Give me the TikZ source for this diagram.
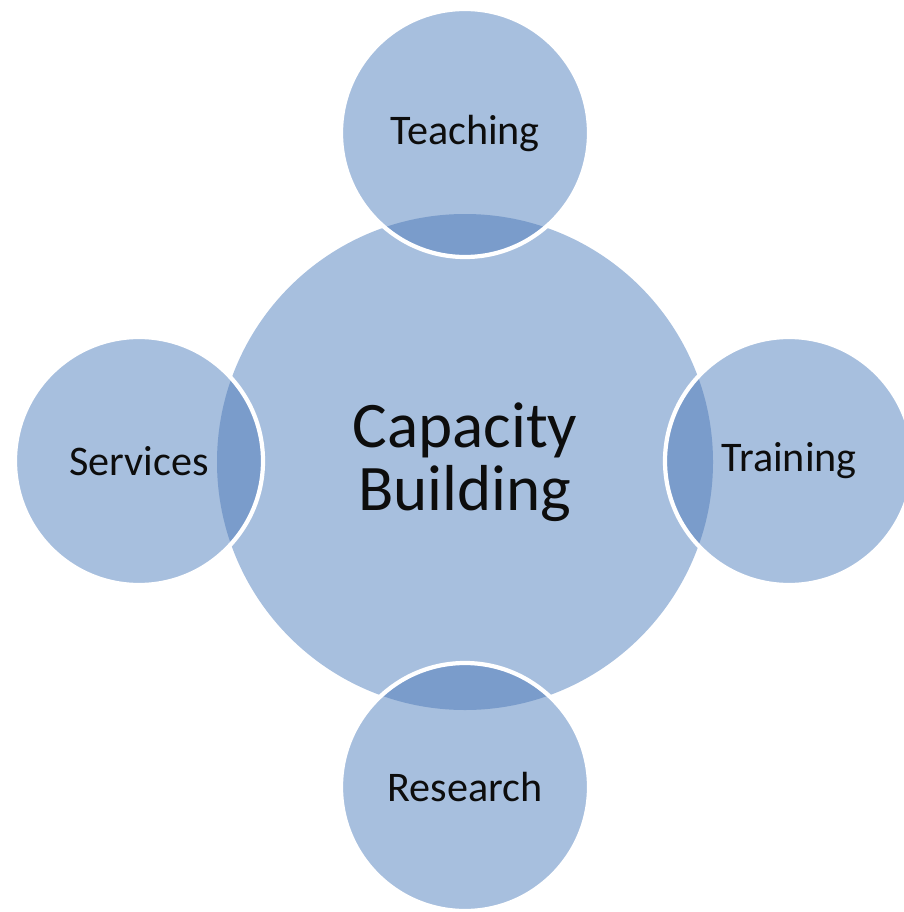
\documentclass[tikz,border=0pt]{standalone}
\usepackage{fontspec}
\setmainfont{Carlito}
\usepackage{tikz}
\definecolor{petal}{HTML}{A7BFDE}
\definecolor{petaldark}{HTML}{7A9CCB}
\definecolor{inktext}{HTML}{0D0D0D}
\newcommand{\hubrad}{248}
\newcommand{\petalrad}{124}
\tikzset{
  hub/.style={circle, fill=petal, minimum size=9.92cm, inner sep=0pt, align=center, font=\fontsize{37}{36}\selectfont, text=inktext},
  petal/.style={circle, fill=petal, minimum size=4.96cm, inner sep=0pt, align=center, font=\fontsize{24}{28}\selectfont, text=inktext},
  lens/.style={fill=petaldark},
  ring/.style={draw=white, line width=2.4pt}
}
\begin{document}
\begin{tikzpicture}[x=0.02cm, y=-0.02cm]
\useasboundingbox (0,0) rectangle (903,912);

% the hub
\node[hub] (cap) at (465,462) {Capacity\\Building};

% four petals round the hub
\node[petal] (teach) at (465,133) {Teaching};
\node[petal] (serv) at (139,461) {Services};
\node[petal] (train) at (789,461) {Training};
\node[petal] (res) at (465,787) {Research};

% darker overlaps
\begin{scope}
  \clip (cap.center) circle[radius=\hubrad];
  \foreach \p in {teach, serv, train, res}
    \fill[lens] (\p.center) circle[radius=\petalrad];
\end{scope}

% white rims of the petals
\foreach \p in {teach, serv, train, res}
  \draw[ring] (\p.center) circle[radius=\petalrad];
\end{tikzpicture}
\end{document}
